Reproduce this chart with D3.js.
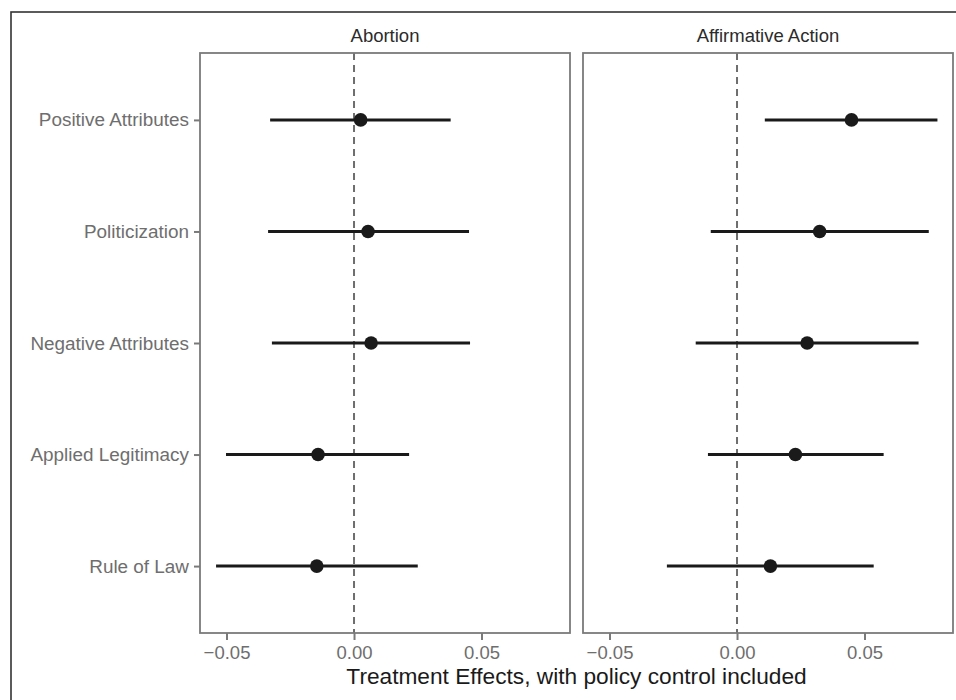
<!DOCTYPE html>
<html>
<head>
<meta charset="utf-8">
<script src="https://cdn.jsdelivr.net/npm/d3@7"></script>
<style>
  body { margin: 0; background: #fff; }
  svg { display: block; font-family: "Liberation Sans", Arial, Helvetica, sans-serif; }
</style>
</head>
<body>
<div id="viz"></div>
<script>
/* Coefficient plot, two facets, drawn with D3 */

var outcomes = ["Positive Attributes", "Politicization", "Negative Attributes", "Applied Legitimacy", "Rule of Law"];
var policies = ["Abortion", "Affirmative Action"];

// estimates and interval ends, in outcome order
var abortionEst = [0.0026, 0.0055, 0.0067, -0.0141, -0.0146];
var abortionLo  = [-0.0329, -0.0337, -0.0322, -0.0502, -0.0541];
var abortionHi  = [0.0379, 0.0451, 0.0455, 0.0216, 0.0250];

var affirmEst = [0.0449, 0.0324, 0.0275, 0.0229, 0.0131];
var affirmLo  = [0.0109, -0.0103, -0.0162, -0.0114, -0.0275];
var affirmHi  = [0.0786, 0.0752, 0.0712, 0.0575, 0.0536];

var xTicks = [-0.05, 0, 0.05];
var xTitle = "Treatment Effects, with policy control included";

var width = 956,
    height = 700,
    margin = { top: 53, left: 200, bottom: 67 },
    panelW = 370,
    panelGap = 13,
    panelH = height - margin.top - margin.bottom;

var series = [
  { name: policies[0], est: abortionEst, lo: abortionLo, hi: abortionHi },
  { name: policies[1], est: affirmEst, lo: affirmLo, hi: affirmHi }
];

var x = d3.scaleLinear()
    .domain([-0.0604, 0.0847])
    .range([0, panelW]);

var y = d3.scalePoint()
    .domain(outcomes)
    .range([0, panelH])
    .padding(0.6);

var svg = d3.select('#viz').append('svg')
    .attr('width', width)
    .attr('height', height);

// outer frame (runs off the right and bottom edges)
svg.append('rect')
    .attr('x', 11)
    .attr('y', 12)
    .attr('width', width)
    .attr('height', height)
    .attr('fill', 'none')
    .attr('stroke', '#333')
    .attr('stroke-width', 1.6);

series.forEach(function(s, p) {
  var g = svg.append('g')
      .attr('transform', 'translate(' + (margin.left + p * (panelW + panelGap)) + ',' + margin.top + ')');

  // strip label
  g.append('text')
      .attr('x', panelW / 2)
      .attr('y', -11)
      .attr('text-anchor', 'middle')
      .attr('font-size', 18.5)
      .attr('fill', '#2b2b2b')
      .text(s.name);

  // zero line
  g.append('line')
      .attr('x1', x(0))
      .attr('x2', x(0))
      .attr('y1', 0)
      .attr('y2', panelH)
      .attr('stroke', '#6e6e6e')
      .attr('stroke-width', 2)
      .attr('stroke-dasharray', '7,5');

  var rows = g.selectAll('g.row')
      .data(outcomes)
      .enter().append('g')
      .attr('class', 'row');

  rows.append('line')
      .attr('x1', function(d, i) { return x(s.lo[i]); })
      .attr('x2', function(d, i) { return x(s.hi[i]); })
      .attr('y1', function(d) { return y(d); })
      .attr('y2', function(d) { return y(d); })
      .attr('stroke', '#1a1a1a')
      .attr('stroke-width', 3);

  rows.append('circle')
      .attr('cx', function(d, i) { return x(s.est[i]); })
      .attr('cy', function(d) { return y(d); })
      .attr('r', 6.8)
      .attr('fill', '#1a1a1a');

  // panel border
  g.append('rect')
      .attr('width', panelW)
      .attr('height', panelH)
      .attr('fill', 'none')
      .attr('stroke', '#7a7a7a')
      .attr('stroke-width', 1.8);

  var xAxis = g.append('g')
      .attr('transform', 'translate(0,' + panelH + ')')
      .call(d3.axisBottom(x)
        .tickValues(xTicks)
        .tickFormat(d3.format('.2f'))
        .tickSize(7)
        .tickPadding(6));
  xAxis.select('.domain').remove();
  xAxis.selectAll('line').attr('stroke', '#7a7a7a').attr('stroke-width', 2);
  xAxis.selectAll('text')
      .attr('font-size', 18.5)
      .attr('font-family', '"Liberation Sans", Arial, sans-serif')
      .attr('fill', '#6e6e6e');

  if (p === 0) {
    var yAxis = g.append('g')
        .call(d3.axisLeft(y).tickSize(6).tickPadding(5));
    yAxis.select('.domain').remove();
    yAxis.selectAll('line').attr('stroke', '#7a7a7a').attr('stroke-width', 2);
    yAxis.selectAll('text')
        .attr('font-size', 18.9)
        .attr('font-family', '"Liberation Sans", Arial, sans-serif')
        .attr('fill', '#6e6e6e');
  }
});

svg.append('text')
    .attr('x', (margin.left + (margin.left + 2 * panelW + panelGap)) / 2)
    .attr('y', 684)
    .attr('text-anchor', 'middle')
    .attr('font-size', 22.7)
    .attr('fill', '#1a1a1a')
    .text(xTitle);
</script>
</body>
</html>
